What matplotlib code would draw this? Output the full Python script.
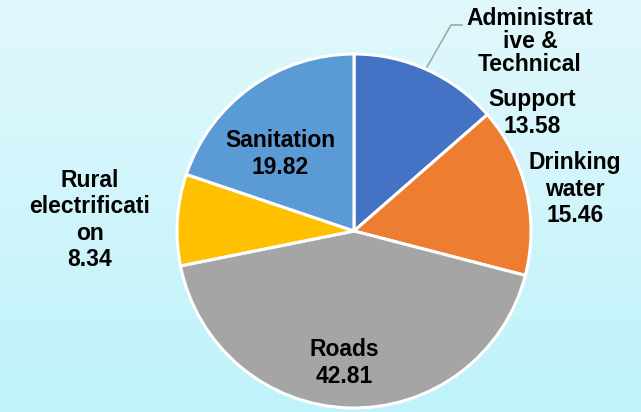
import numpy as np
import matplotlib
matplotlib.use("Agg")
import matplotlib.pyplot as plt
from matplotlib.colors import LinearSegmentedColormap

# Data
labels = ["Administrat\nive &\nTechnical\nSupport", "Drinking\nwater", "Roads",
          "Rural\nelectrificati\non", "Sanitation"]
values = [13.58, 15.46, 42.81, 8.34, 19.82]
colors = ["#4472C4", "#ED7D31", "#A5A5A5", "#FFC000", "#5B9BD5"]

plt.rcParams['font.family'] = ['Liberation Sans', 'DejaVu Sans']

W, H = 641, 412
fig = plt.figure(figsize=(W / 100, H / 100), dpi=100)
ax = fig.add_axes([0, 0, 1, 1])
ax.set_xlim(0, W)
ax.set_ylim(0, H)
ax.axis("off")

# background gradient
bg = LinearSegmentedColormap.from_list("bg", ["#BFF2FA", "#E1F8FC"])
grad = np.linspace(0, 1, 256).reshape(-1, 1)
ax.imshow(grad, extent=(0, W, 0, H), origin="lower", cmap=bg, aspect="auto", zorder=0)

cx, cy, r = 354, H - 231, 177
wedges, _ = ax.pie(values, colors=colors, startangle=90, counterclock=False,
                   center=(cx, cy), radius=r, frame=True,
                   wedgeprops=dict(edgecolor="white", linewidth=2.2))
for w in wedges:
    w.set_zorder(2)
ax.set_xlim(0, W)
ax.set_ylim(0, H)
ax.axis("off")

txt = dict(ha="center", va="center", fontsize=16.5, fontweight="bold",
           color="black", zorder=4)

# Administrative & Technical Support
name0 = labels[0].split("\n")
ax.text(530, H - 41, "\n".join(name0[:3]), linespacing=1.0, **txt)
ax.text(532, H - 113, f"{name0[3]}\n{values[0]:.2f}", linespacing=1.2, **txt)
ax.plot([427, 451, 462], [H - 67, H - 25, H - 25], color="#A6A6A6", lw=1.2, zorder=3)

# Drinking water
ax.text(575, H - 189, f"{labels[1]}\n{values[1]:.2f}", linespacing=1.2, **txt)
# Roads
ax.text(344, H - 363, f"{labels[2]}\n{values[2]:.2f}", linespacing=1.2, **txt)
# Rural electrification
ax.text(90, H - 220, f"{labels[3]}\n{values[3]:.2f}", linespacing=1.2, **txt)
# Sanitation
ax.text(280, H - 154, f"{labels[4]}\n{values[4]:.2f}", linespacing=1.2, **txt)

fig.savefig("out.png", dpi=100)
